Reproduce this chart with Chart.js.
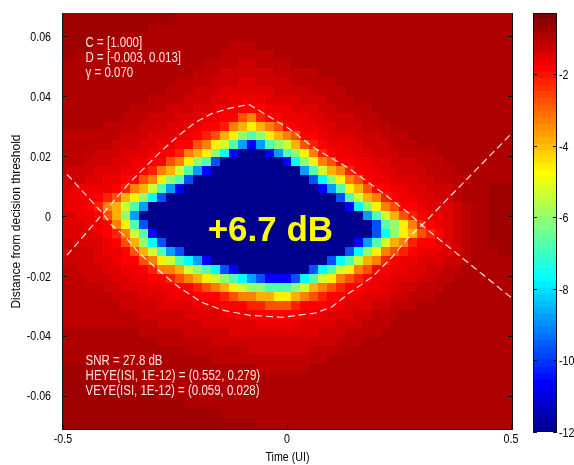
<!DOCTYPE html>
<html>
<head>
<meta charset="utf-8">
<title>Eye contour</title>
<script src="https://cdn.jsdelivr.net/npm/chart.js@4.4.1/dist/chart.umd.min.js"></script>
<style>
  html, body { margin: 0; padding: 0; background: #fff; overflow: hidden; }
  #box { position: relative; width: 574px; height: 465px; }
  #eyeChart { position: absolute; left: 0; top: 0; }
  #barChart { position: absolute; left: 520px; top: 0; }
</style>
</head>
<body>
<div id="box">
  <canvas id="eyeChart" width="574" height="465"></canvas>
  <canvas id="barChart" width="54" height="465"></canvas>
</div>
<script>
// axis ticks
var timeTicks = [-0.5, 0, 0.5];
var timeLabels = ['-0.5', '0', '0.5'];
var distTicks = [-0.06, -0.04, -0.02, 0, 0.02, 0.04, 0.06];
var distLabels = ['-0.06', '-0.04', '-0.02', '0', '0.02', '0.04', '0.06'];
var berTicks = [-12, -10, -8, -6, -4, -2];
var berLabels = ['-12', '-10', '-8', '-6', '-4', '-2'];

// colour range of the colorbar (log10 BER)
var cMin = -12, cMax = -0.28;

// grid of the contour map: column centres from -0.5 step 0.02, row centres from 0.066 step -0.003
var xStart = -0.5, xStep = 0.02;
var yStart = 0.066, yStep = -0.003;

// one character per cell, looked up in levelKeys -> levelValues (log10 BER)
var levelKeys = "0123456789abcdefghijk";
var levelValues = [-0.74, -0.92, -0.95, -1.10, -1.29, -1.47, -1.65, -1.84, -2.20, -2.75,
                   -3.30, -3.85, -4.59, -5.32, -6.05, -6.78, -7.70, -8.80, -9.71, -10.63, -11.91];

// rows top to bottom, 51 cells each (spaces only group them by ten)
var berRows = [
  "0000000000 0001111222 2222111111 1111111111 1111111111 1",
  "0000000000 1111112222 2222221111 1111111111 1111111111 1",
  "0000000111 1111222222 2222222221 1111111111 1111111111 1",
  "0000111111 1112222223 3322222222 2111111111 1111111111 1",
  "0011111111 1222222233 3333222222 2221111111 1111111111 1",
  "1111111112 2222223333 4433332222 2222111111 1111111111 1",
  "1111111122 2222233344 4444333332 2222211111 1111111111 1",
  "1111112222 2223333444 5544443333 3222222111 1111111111 1",
  "1111122222 2233344455 5555444433 3322222211 1111111111 1",
  "1112222222 3333444556 6665555444 3332222221 1111111111 1",
  "1122222233 3344455566 7776665554 4333322222 2111111111 1",
  "2222222333 4445556677 9a87766655 4443332222 2211111111 1",
  "2222233334 445566778a bcba977665 5444333222 2222111111 1",
  "3333333444 55566789bc efecba9776 5554443332 2222211111 1",
  "3333334445 566779acdf hjhfedb987 6655444333 2222221111 1",
  "3333444555 6678abcegj kkkjhfeca8 7665544433 3322222211 1",
  "3334445566 779acefikk kkkkkjgeca 9776655444 3332222221 1",
  "3444555667 8abdfhjkkk kkkkkkkhfd ba87665544 4333222221 1",
  "4445566779 acefikkkkk kkkkkkkkig eca9766555 4433332211 1",
  "55666678ab dfhjkkkkkk kkkkkkkkkj hfcb977665 5444321100 0",
  "5666789bce gikkkkkkkk kkkkkkkkkk kifdba8766 5544321100 0",
  "56678abdfh kkkkkkkkkk kkkkkkkkkk kkjgeca977 6555432100 0",
  "556679behk kkkkkkkkkk kkkkkkkkkk kkkkhfdb98 7665432100 0",
  "555667acfi kkkkkkkkkk kkkkkkkkkk kkkkkifeca 8765432100 0",
  "5555678adf jkkkkkkkkk kkkkkkkkkk kkkkkigecb 9875432100 0",
  "44555679be gikkkkkkkk kkkkkkkkkk kkkjhfdba8 7765432100 0",
  "444456679b dfhikkkkkk kkkkkkkkkk kkigeca987 6655432110 0",
  "4444556779 acdfghjkkk kkkkkkkkkk igfdba8766 5554432111 1",
  "3344455667 8aabdefgij kkkkkkkkig fdca977665 5443322111 1",
  "3334445566 7789abcdef ghijjjigfd ca98766555 4433222111 1",
  "3333344555 6667789abc deefffedba 9877665544 3332222221 1",
  "3333334445 5566677789 aabbccba98 7766555443 3322222221 1",
  "3333333444 4555566677 7889998777 6655544333 2222222111 1",
  "3333333334 4444555566 6677777666 5554433322 2222211111 1",
  "3333333333 3444445555 5566666555 5444333222 2222111111 1",
  "2222222223 3333444445 5555555554 4433332222 2211111111 1",
  "1112222222 2333333444 4444444444 4333222222 1111111111 1",
  "1111122222 2222333333 3444444433 3322222211 1111111111 1",
  "1111112222 2222222333 3333333333 2222222111 1111111111 1",
  "0001111112 2222222222 2233333322 2222211111 1111111111 1",
  "0000011111 1122222222 2222222222 2221111111 1111111111 1",
  "0000000011 1111222222 2222222222 2211111111 1111111111 1",
  "0000000000 0111111222 2222222222 1111111111 1111111111 1",
  "0000000000 0000111111 1111122211 1111111111 1111111111 1",
  "0000000000 0000000011 1111111111 1111111111 1111111111 1",
  "0000000000 0000000000 0011111111 1111111111 1111111111 1",
  "0000000000 0000000000 0000001111 1111111111 1111111111 1"
];

// dashed contour lines (they cross at both ends of the eye)
var upperX = [-0.491, -0.411, -0.391, -0.353, -0.317, -0.279, -0.241, -0.205, -0.167, -0.129,
              -0.085, -0.056, 0.004, 0.062, 0.138, 0.212, 0.272, 0.301, 0.502];
var upperY = [-0.0131, 0.0008, 0.0042, 0.0109, 0.0162, 0.0219, 0.0269, 0.0312, 0.0342, 0.0359,
              0.0372, 0.0346, 0.0292, 0.0226, 0.0159, 0.0079, 0.0009, -0.0031, -0.0274];
var lowerX = [-0.491, -0.411, -0.391, -0.364, -0.330, -0.279, -0.241, -0.190, -0.145, -0.085,
              -0.011, 0.062, 0.100, 0.138, 0.190, 0.234, 0.272, 0.301, 0.502];
var lowerY = [0.0139, 0.0008, -0.0031, -0.0064, -0.0124, -0.0191, -0.0238, -0.0288, -0.0314, -0.0331,
              -0.0338, -0.0324, -0.0304, -0.0258, -0.0204, -0.0138, -0.0071, -0.0031, 0.0276];

var topNotes = ["C = [1.000]", "D = [-0.003, 0.013]", "\u03b3 = 0.070"];
var bottomNotes = ["SNR = 27.8 dB", "HEYE(ISI, 1E-12) = (0.552, 0.279)", "VEYE(ISI, 1E-12) = (0.059, 0.028)"];
var marginText = "+6.7 dB";

var plainFont = "'Liberation Sans', Arial, Helvetica, sans-serif";
var narrow = 0.82;   // the original uses a narrow helvetica

// matlab style jet(64)
function makeJet() {
  var n = 16, u = [], map = [], k;
  for (k = 1; k <= n; k++) u.push(k / n);
  for (k = 0; k < n - 1; k++) u.push(1);
  for (k = n; k >= 1; k--) u.push(k / n);
  for (k = 0; k < 64; k++) map.push([0, 0, 0]);
  for (var j = 0; j < u.length; j++) {
    var g = 8 + j, r = g + n, b = g - n;
    if (r < 64) map[r][0] = u[j];
    if (g < 64) map[g][1] = u[j];
    if (b >= 0) map[b][2] = u[j];
  }
  return map.map(function (c) {
    return 'rgb(' + Math.round(c[0] * 255) + ',' + Math.round(c[1] * 255) + ',' + Math.round(c[2] * 255) + ')';
  });
}
var jet = makeJet();

function colorFor(v) {
  var i = Math.floor((v - cMin) / (cMax - cMin) * 64);
  return jet[Math.max(0, Math.min(63, i))];
}

// condensed text
function narrowText(ctx, text, x, y, align, size) {
  ctx.save();
  ctx.translate(x, y);
  ctx.scale(narrow, 1);
  ctx.font = size + 'px ' + plainFont;
  ctx.textAlign = align;
  ctx.textBaseline = 'alphabetic';
  ctx.fillText(text, 0, 0);
  ctx.restore();
}

var rows = berRows.map(function (r) { return r.replace(/ /g, ''); });

var heatmap = {
  id: 'heatmap',
  beforeDatasetsDraw: function (chart) {
    var ctx = chart.ctx, a = chart.chartArea, xs = chart.scales.x, ys = chart.scales.y;
    ctx.save();
    ctx.beginPath();
    ctx.rect(a.left, a.top, a.right - a.left, a.bottom - a.top);
    ctx.clip();
    rows.forEach(function (row, j) {
      var yc = yStart + j * yStep;
      var top = j === 0 ? ys.max : yc - yStep / 2;
      var bot = j === rows.length - 1 ? ys.min : yc + yStep / 2;
      var y0 = Math.round(ys.getPixelForValue(top)), y1 = Math.round(ys.getPixelForValue(bot));
      for (var i = 0; i < row.length; i++) {
        var xc = xStart + i * xStep;
        var left = i === 0 ? xs.min : xc - xStep / 2;
        var right = i === row.length - 1 ? xs.max : xc + xStep / 2;
        var x0 = Math.round(xs.getPixelForValue(left)), x1 = Math.round(xs.getPixelForValue(right));
        ctx.fillStyle = colorFor(levelValues[levelKeys.indexOf(row[i])]);
        ctx.fillRect(x0, y0, x1 - x0, y1 - y0);
      }
    });
    ctx.restore();
  }
};

var overlay = {
  id: 'overlay',
  afterDatasetsDraw: function (chart) {
    var ctx = chart.ctx, a = chart.chartArea, xs = chart.scales.x, ys = chart.scales.y;
    ctx.save();
    // notes
    ctx.fillStyle = '#ffe6e6';
    var nx = xs.getPixelForValue(-0.4495);
    topNotes.forEach(function (t, i) { narrowText(ctx, t, nx, ys.getPixelForValue(0.0563 - i * 0.005), 'left', 14); });
    bottomNotes.forEach(function (t, i) { narrowText(ctx, t, nx, ys.getPixelForValue(-0.0498 - i * 0.005), 'left', 14); });
    ctx.fillStyle = '#ffff00';
    ctx.font = 'bold 35px ' + plainFont;
    ctx.textAlign = 'center';
    ctx.textBaseline = 'alphabetic';
    ctx.fillText(marginText, xs.getPixelForValue(-0.037), ys.getPixelForValue(-0.0083));
    // inward ticks and axes lines (left, right, bottom)
    ctx.strokeStyle = '#111';
    ctx.lineWidth = 1;
    ctx.beginPath();
    distTicks.forEach(function (v) {
      var p = Math.round(ys.getPixelForValue(v)) + 0.5;
      ctx.moveTo(a.left, p); ctx.lineTo(a.left + 5, p);
      ctx.moveTo(a.right, p); ctx.lineTo(a.right - 5, p);
    });
    timeTicks.forEach(function (v) {
      var p = Math.round(xs.getPixelForValue(v)) + 0.5;
      ctx.moveTo(p, a.bottom); ctx.lineTo(p, a.bottom - 5);
    });
    ctx.moveTo(a.left + 0.5, a.top); ctx.lineTo(a.left + 0.5, a.bottom);
    ctx.moveTo(a.right - 0.5, a.top); ctx.lineTo(a.right - 0.5, a.bottom);
    ctx.moveTo(a.left, a.bottom - 0.5); ctx.lineTo(a.right, a.bottom - 0.5);
    ctx.stroke();
    // tick labels and x title
    ctx.fillStyle = '#000';
    distTicks.forEach(function (v, i) {
      narrowText(ctx, distLabels[i], a.left - 11, ys.getPixelForValue(v) + 4.6, 'right', 13);
    });
    timeTicks.forEach(function (v, i) {
      narrowText(ctx, timeLabels[i], xs.getPixelForValue(v), a.bottom + 12.5, 'center', 13);
    });
    narrowText(ctx, 'Time (UI)', (a.left + a.right) / 2, a.bottom + 31, 'center', 13);
    ctx.restore();
  }
};

function dashed(xv, yv) {
  return {
    data: xv.map(function (x, i) { return { x: x, y: yv[i] }; }),
    showLine: true,
    borderColor: 'rgba(255,240,240,0.95)',
    borderWidth: 1.2,
    borderDash: [7, 4],
    pointRadius: 0,
    fill: false
  };
}

new Chart(document.getElementById('eyeChart'), {
  type: 'scatter',
  data: { datasets: [dashed(upperX, upperY), dashed(lowerX, lowerY)] },
  options: {
    responsive: false,
    animation: false,
    events: [],
    layout: { padding: { left: 0, right: 61, top: 13, bottom: 0 } },
    plugins: { legend: { display: false }, tooltip: { enabled: false } },
    scales: {
      x: {
        type: 'linear', min: -0.5022, max: 0.5045,
        afterFit: function (s) { s.height = 35; },
        grid: { display: false, drawTicks: false },
        border: { display: false },
        ticks: { display: false }
      },
      y: {
        type: 'linear', min: -0.0714, max: 0.0677,
        afterFit: function (s) { s.width = 62; },
        grid: { display: false, drawTicks: false },
        border: { display: false },
        ticks: { display: false },
        title: { display: true, text: 'Distance from decision threshold', color: '#000',
                 font: { size: 12, family: plainFont }, padding: { top: 9, bottom: 0 } }
      }
    }
  },
  plugins: [heatmap, overlay]
});

// colorbar: 64 stacked bands
var bandSize = (cMax - cMin) / 64;
var bands = jet.map(function (col, k) {
  return {
    data: [[cMin + k * bandSize, cMin + (k + 1) * bandSize]],
    backgroundColor: col,
    borderWidth: 0,
    barPercentage: 1,
    categoryPercentage: 1,
    grouped: false
  };
});

var barFrame = {
  id: 'barFrame',
  afterDatasetsDraw: function (chart) {
    var ctx = chart.ctx, a = chart.chartArea, ys = chart.scales.y;
    ctx.save();
    ctx.strokeStyle = '#111';
    ctx.lineWidth = 1;
    ctx.beginPath();
    berTicks.forEach(function (v) {
      var p = Math.round(ys.getPixelForValue(v)) + 0.5;
      ctx.moveTo(a.left, p); ctx.lineTo(a.left + 4, p);
      ctx.moveTo(a.right, p); ctx.lineTo(a.right - 4, p);
    });
    ctx.stroke();
    ctx.strokeRect(a.left + 0.5, a.top + 0.5, a.right - a.left - 1, a.bottom - a.top - 1);
    ctx.fillStyle = '#000';
    berTicks.forEach(function (v, i) {
      narrowText(ctx, berLabels[i], a.right + 2, ys.getPixelForValue(v) + 4.6, 'left', 13);
    });
    ctx.restore();
  }
};

new Chart(document.getElementById('barChart'), {
  type: 'bar',
  data: { labels: [''], datasets: bands },
  options: {
    responsive: false,
    animation: false,
    events: [],
    layout: { padding: { left: 13, right: 0, top: 13, bottom: 33 } },
    plugins: { legend: { display: false }, tooltip: { enabled: false } },
    scales: {
      x: { display: false },
      y: {
        position: 'right', min: cMin, max: cMax,
        afterFit: function (s) { s.width = 17; },
        grid: { display: false, drawTicks: false },
        border: { display: false },
        ticks: { display: false }
      }
    }
  },
  plugins: [barFrame]
});

var badRows = rows.map(function (r, i) { return r.length === 51 ? -1 : i; }).filter(function (i) { return i >= 0; });
if (badRows.length) setTimeout(function () { throw new Error('rows with wrong length: ' + badRows.join(',')); }, 0);
</script>
</body>
</html>
